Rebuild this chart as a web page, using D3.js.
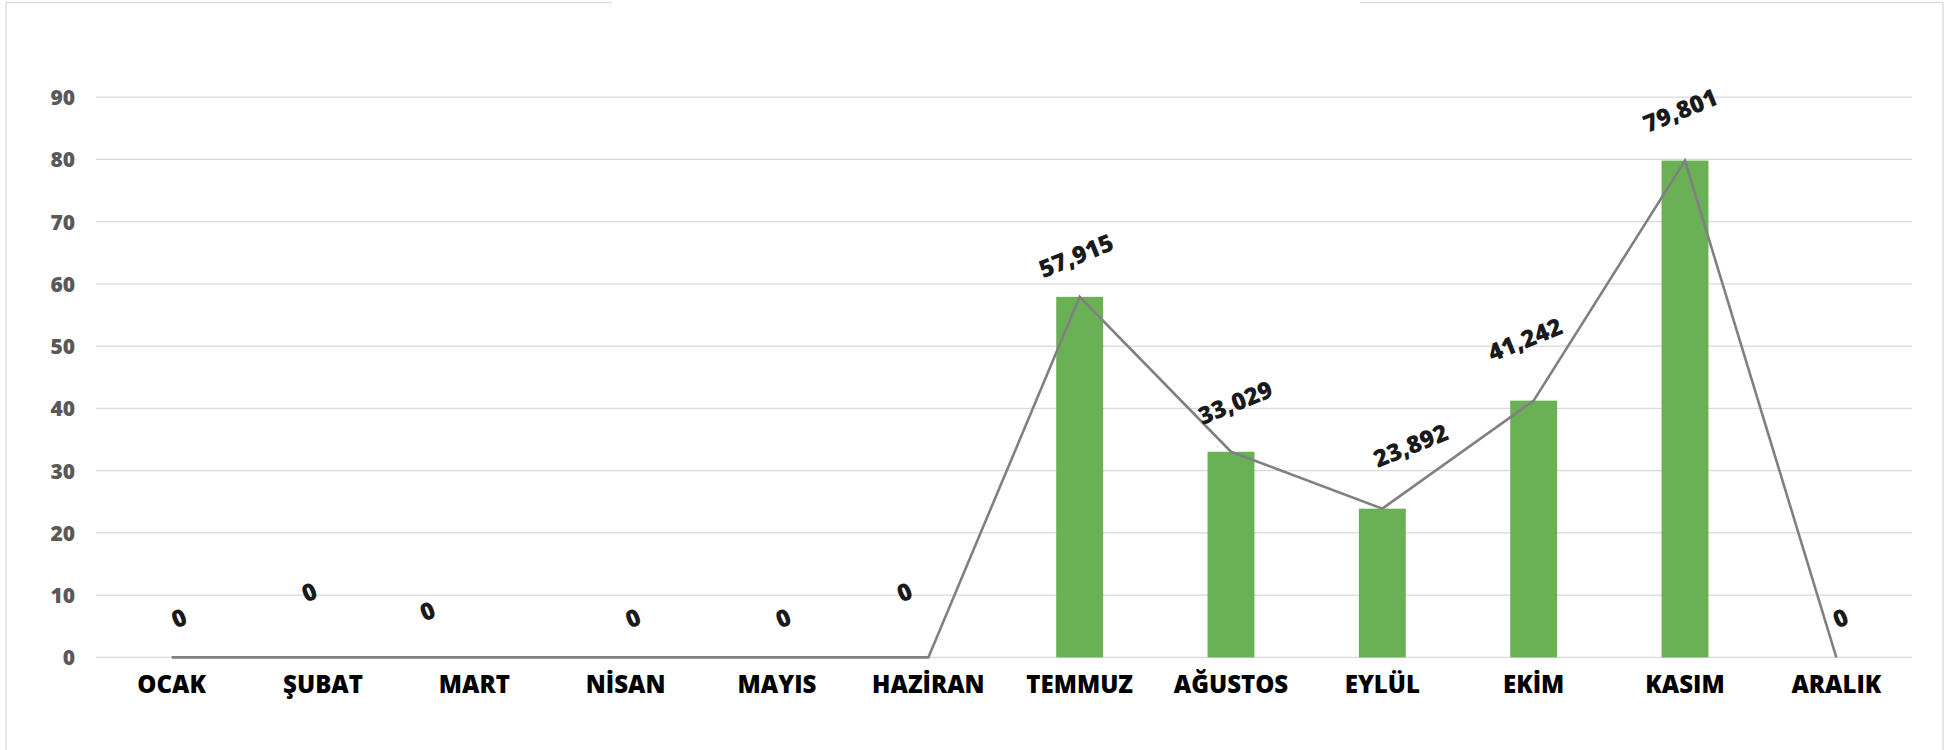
<!DOCTYPE html>
<html><head><meta charset="utf-8">
<script src="https://cdn.jsdelivr.net/npm/d3@7"></script>
<style>
html,body{margin:0;padding:0;background:#fff;}
svg{display:block;}
</style></head>
<body>
<script>
const months = ["OCAK","ŞUBAT","MART","NİSAN","MAYIS","HAZİRAN","TEMMUZ","AĞUSTOS","EYLÜL","EKİM","KASIM","ARALIK"];
const values = [0,0,0,0,0,0,57.915,33.029,23.892,41.242,79.801,0];
const yTicks = [0,10,20,30,40,50,60,70,80,90];
// manual data-label offsets (px) relative to each point, as placed in the original
const labelDx = [7,-14,-47,7,6,-24,-4,4,28,-9,-5,4];
const labelDy = [-40,-66,-47,-40,-40,-66,-42,-50,-64,-62,-51,-40];

const W = 1952, H = 750;
const svg = d3.select("body").append("svg").attr("width", W).attr("height", H);

// frame
svg.append("rect").attr("x",6).attr("y",2.5).attr("width",1937).attr("height",H+10)
  .attr("fill","none").attr("stroke","#d9d9d9").attr("stroke-width",1.3);
svg.append("rect").attr("x",612).attr("y",0).attr("width",748).attr("height",6).attr("fill","#fff");

const x = d3.scaleBand().domain(months).range([96,1912]).paddingInner(0.69).paddingOuter(0.345);
const y = d3.scaleLinear().domain([0,90]).range([657.4,97.1]);

// gridlines
svg.append("g").selectAll("line").data(yTicks).join("line")
  .attr("x1",96).attr("x2",1912)
  .attr("y1",d=>y(d)).attr("y2",d=>y(d))
  .attr("stroke","#d9d9d9").attr("stroke-width",1.3);

// y axis labels
const yAxis = d3.axisLeft(y).tickValues(yTicks).tickSize(0).tickPadding(0).tickFormat(d3.format("d"));
const gy = svg.append("g").attr("transform","translate(75,0)").call(yAxis);
gy.select(".domain").remove();
gy.selectAll("text").attr("font-family","'Open Sans', sans-serif").attr("font-weight",800)
  .attr("font-size",21).attr("fill","#595959").attr("dy","0.36em");

// x axis labels
const xAxis = d3.axisBottom(x).tickSize(0).tickPadding(0);
const gx = svg.append("g").attr("transform","translate(0,676)").call(xAxis);
gx.select(".domain").remove();
gx.selectAll("text").attr("font-family","'Open Sans', sans-serif").attr("font-weight",800)
  .attr("font-size",24).attr("fill","#000").attr("dy","0.72em");

// bars
svg.append("g").selectAll("rect").data(values.map((v,i)=>({m:months[i],v}))).join("rect")
  .attr("x",d=>x(d.m)).attr("width",x.bandwidth())
  .attr("y",d=>y(d.v)).attr("height",d=>y(0)-y(d.v))
  .attr("fill","#6ab155");

// line
const line = d3.line().x((d,i)=>x(months[i])+x.bandwidth()/2).y(d=>y(d));
svg.append("path").datum(values).attr("d",line)
  .attr("fill","none").attr("stroke","#808080").attr("stroke-width",2.6).attr("stroke-linejoin","miter");

// data labels
const fmt = v => v===0 ? "0" : d3.format(".3f")(v).replace(".",",");
svg.append("g").selectAll("text").data(values).join("text")
  .attr("transform",(d,i)=>`translate(${x(months[i])+x.bandwidth()/2+labelDx[i]},${y(d)+labelDy[i]}) rotate(-22)`)
  .attr("text-anchor","middle").attr("dominant-baseline","central")
  .attr("font-family","'Open Sans', sans-serif").attr("font-weight",800)
  .attr("font-size",24).attr("fill","#1a1a1a")
  .text(d=>fmt(d));
</script>
</body></html>
